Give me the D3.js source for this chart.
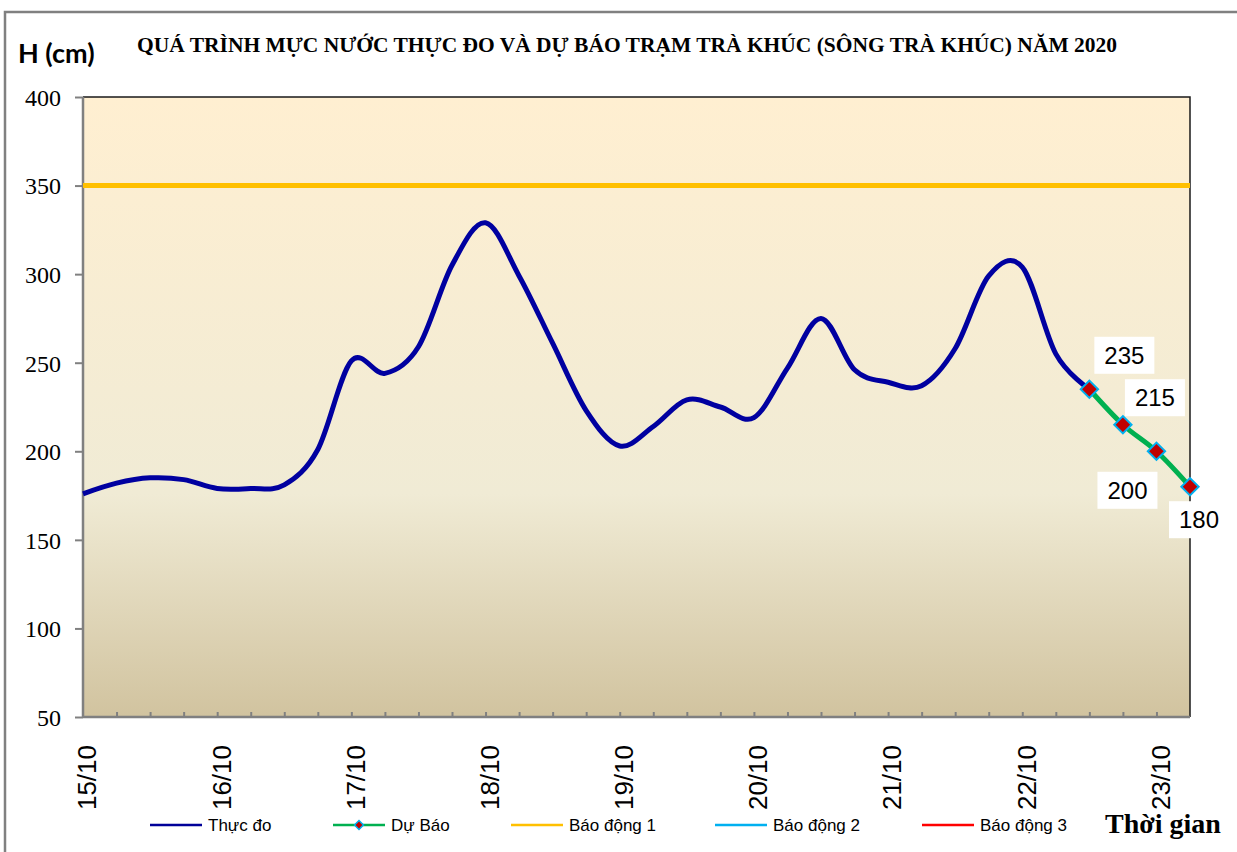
<!DOCTYPE html>
<meta charset="utf-8">
<title>Trà Khúc 2020</title>
<style>

body {
  margin: 0px;
  background: #fff;
}

.axis path {
  display: none;
}

.axis line {
  stroke: #808080;
  stroke-width: 2px;
}

.legend text {
  font: 17px "Liberation Sans", Arial, sans-serif;
  fill: #000;
}

</style>

<script src="https://d3js.org/d3.v7.min.js"></script>

<body>
<script>

var width = 1237, height = 852;

// Measured water level (cm), every 6 hours from 15/10 00h
var observed = [176, 182, 185, 184, 179, 179, 181, 201, 251, 244, 259, 305, 329, 299,
                261, 223, 203, 214, 229, 225, 219, 247, 275, 246, 239, 237, 258, 299,
                304, 255, 235];

// Forecast (cm), continues from the last measured point
var forecast = [235, 215, 200, 180];

// Alarm levels (cm)
var alarmNames = ["Báo động 1", "Báo động 2", "Báo động 3"];
var alarmLevels = [350, 450, 550];
var alarmColors = ["#ffc000", "#00b0f0", "#ff0000"];

// Day labels, one every 4 steps
var dayLabels = ["15/10", "16/10", "17/10", "18/10", "19/10", "20/10", "21/10", "22/10", "23/10"];
var yTicks = [50, 100, 150, 200, 250, 300, 350, 400];

var nSteps = observed.length + forecast.length - 2; // 33 intervals

var margin = {left: 83, right: 1190, top: 97, bottom: 717};

var x = d3.scaleLinear()
    .domain([0, nSteps])
    .range([margin.left, margin.right]);

var y = d3.scaleLinear()
    .domain([50, 400])
    .range([margin.bottom, margin.top]);

var svg = d3.select("body").append("svg")
    .attr("width", width)
    .attr("height", height);

var defs = svg.append("defs");

// Excel "parchment" gradient
var grad = defs.append("linearGradient")
    .attr("id", "parchment")
    .attr("x1", 0).attr("y1", 0).attr("x2", 0).attr("y2", 1);
grad.append("stop").attr("offset", "0%").attr("stop-color", "#ffefd1");
grad.append("stop").attr("offset", "64%").attr("stop-color", "#f0ebd5");
grad.append("stop").attr("offset", "100%").attr("stop-color", "#d1c39f");

defs.append("clipPath").attr("id", "plotclip")
  .append("rect")
    .attr("x", margin.left)
    .attr("y", margin.top)
    .attr("width", margin.right - margin.left)
    .attr("height", margin.bottom - margin.top);

// outer chart border
svg.append("rect")
    .attr("x", 5)
    .attr("y", 12)
    .attr("width", 1260)
    .attr("height", 900)
    .attr("fill", "none")
    .attr("stroke", "#808080")
    .attr("stroke-width", 2.5);

// plot background
svg.append("rect")
    .attr("x", margin.left)
    .attr("y", margin.top)
    .attr("width", margin.right - margin.left)
    .attr("height", margin.bottom - margin.top)
    .attr("fill", "url(#parchment)");

// top and right border (dark)
svg.append("path")
    .attr("d", "M" + margin.left + "," + margin.top + "H" + margin.right + "V" + margin.bottom)
    .attr("fill", "none")
    .attr("stroke", "#1a1a1a")
    .attr("stroke-width", 1.5);

// Title and axis titles
svg.append("text")
    .attr("x", 18)
    .attr("y", 63)
    .style("font", "bold 27px Lato, 'Open Sans', sans-serif")
    .text("H (cm)");

svg.append("text")
    .attr("x", 137)
    .attr("y", 52)
    .attr("textLength", 980)
    .attr("lengthAdjust", "spacingAndGlyphs")
    .style("font", "bold 21px 'Liberation Serif', serif")
    .text("QUÁ TRÌNH MỰC NƯỚC THỰC ĐO VÀ DỰ BÁO TRẠM TRÀ KHÚC (SÔNG TRÀ KHÚC) NĂM 2020");

svg.append("text")
    .attr("x", 1105)
    .attr("y", 833)
    .style("font", "bold 28px 'Liberation Serif', serif")
    .text("Thời gian");

// Y axis
var yAxis = svg.append("g")
    .attr("class", "axis")
    .attr("transform", "translate(" + margin.left + ",0)")
    .call(d3.axisLeft(y).tickValues(yTicks).tickSize(8).tickPadding(14));

yAxis.selectAll("text")
    .style("font", "24px 'Liberation Serif', serif")
    .style("fill", "#000")
    .attr("dy", "0.35em");

// X axis ticks (inside)
svg.append("g")
    .attr("class", "axis")
    .attr("transform", "translate(0," + margin.bottom + ")")
    .call(d3.axisBottom(x).tickValues(d3.range(1, nSteps)).tickSize(-5).tickFormat(""));

// axis lines
svg.append("line")
    .attr("x1", margin.left).attr("x2", margin.left)
    .attr("y1", margin.top).attr("y2", margin.bottom)
    .attr("stroke", "#808080").attr("stroke-width", 2.5);

svg.append("line")
    .attr("x1", margin.left).attr("x2", margin.right)
    .attr("y1", margin.bottom).attr("y2", margin.bottom)
    .attr("stroke", "#808080").attr("stroke-width", 2.5);

// Rotated day labels
svg.selectAll(".xlab")
    .data(dayLabels)
  .enter().append("text")
    .attr("class", "xlab")
    .style("font", "26px 'Liberation Sans', Arial, sans-serif")
    .attr("text-anchor", "end")
    .attr("dy", "0.36em")
    .attr("transform", function(d, i) {
      return "translate(" + (x(i * 4) + 4) + ",745) rotate(-90)";
    })
    .text(function(d) { return d; });

var plot = svg.append("g").attr("clip-path", "url(#plotclip)");

// Alarm lines (only the ones inside the range show)
plot.selectAll(".alarm")
    .data(alarmLevels)
  .enter().append("line")
    .attr("class", "alarm")
    .attr("x1", margin.left)
    .attr("x2", margin.right)
    .attr("y1", function(d) { return y(d); })
    .attr("y2", function(d) { return y(d); })
    .attr("stroke", function(d, i) { return alarmColors[i]; })
    .attr("stroke-width", 5);

var line = d3.line()
    .x(function(d) { return x(d[0]); })
    .y(function(d) { return y(d[1]); })
    .curve(d3.curveCardinal.tension(0));

var obsPts = observed.map(function(v, i) { return [i, v]; });
var fcPts = forecast.map(function(v, i) { return [observed.length - 1 + i, v]; });

svg.append("path")
    .datum(obsPts)
    .attr("d", line)
    .attr("fill", "none")
    .attr("stroke", "#0000a0")
    .attr("stroke-width", 5)
    .attr("stroke-linejoin", "round");

svg.append("path")
    .datum(fcPts)
    .attr("d", line)
    .attr("fill", "none")
    .attr("stroke", "#00b050")
    .attr("stroke-width", 5);

var diamond = d3.symbol().type(d3.symbolSquare).size(150);

svg.selectAll(".mark")
    .data(fcPts)
  .enter().append("path")
    .attr("class", "mark")
    .attr("d", diamond)
    .attr("transform", function(d) { return "translate(" + x(d[0]) + "," + y(d[1]) + ") rotate(45)"; })
    .attr("fill", "#c00000")
    .attr("stroke", "#00b0f0")
    .attr("stroke-width", 2);

// Data labels in white boxes
var labelOffset = [[35, -34], [32, -27], [-29, 39], [9, 33]];

var dl = svg.selectAll(".dl")
    .data(fcPts)
  .enter().append("g")
    .attr("class", "dl")
    .attr("transform", function(d, i) {
      return "translate(" + (x(d[0]) + labelOffset[i][0]) + "," + (y(d[1]) + labelOffset[i][1]) + ")";
    });

dl.append("rect")
    .attr("x", -30).attr("y", -18.5)
    .attr("width", 60).attr("height", 37)
    .attr("fill", "#fff");

dl.append("text")
    .style("font", "24px 'Liberation Sans', Arial, sans-serif")
    .attr("text-anchor", "middle")
    .attr("dy", "0.36em")
    .text(function(d) { return d[1]; });

// Legend
var legendItems = [
  {name: "Thực đo", color: "#000099", x: 150, marker: false},
  {name: "Dự Báo", color: "#00b050", x: 333, marker: true}
].concat(alarmNames.map(function(n, i) {
  return {name: n, color: alarmColors[i], x: [511, 715, 922][i], marker: false};
}));

var legend = svg.selectAll(".legend")
    .data(legendItems)
  .enter().append("g")
    .attr("class", "legend")
    .attr("transform", function(d) { return "translate(" + d.x + ",825)"; });

legend.append("line")
    .attr("x1", 0).attr("x2", 52)
    .attr("stroke", function(d) { return d.color; })
    .attr("stroke-width", 2.5);

legend.filter(function(d) { return d.marker; })
  .append("path")
    .attr("d", d3.symbol().type(d3.symbolSquare).size(40))
    .attr("transform", "translate(26,0) rotate(45)")
    .attr("fill", "#c00000")
    .attr("stroke", "#00b0f0")
    .attr("stroke-width", 1.5);

legend.append("text")
    .attr("x", 58)
    .attr("dy", "0.36em")
    .text(function(d) { return d.name; });

</script>
